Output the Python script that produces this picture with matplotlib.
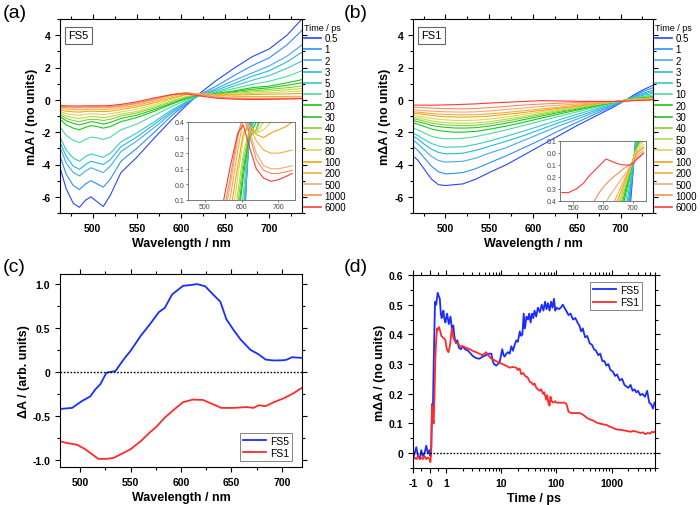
import numpy as np
import matplotlib
matplotlib.use("Agg")
import matplotlib.pyplot as plt
from matplotlib.ticker import MultipleLocator, FixedLocator, FuncFormatter

plt.rcParams['font.family'] = ['Liberation Sans', 'DejaVu Sans']
plt.rcParams['axes.unicode_minus'] = False

# ---- data ----
delays = ['0.5', '1', '2', '3', '5', '10', '20', '30', '40', '50', '80', '100', '200', '500', '1000', '6000']
delay_colors = ['#2a45ff', '#2a90ff', '#45a8f5', '#20bcd8', '#3cc8c4', '#4ed8a4', '#14cc14', '#2cc02c',
                '#86d42c', '#b0dc58', '#e2d456', '#f2a612', '#f2ae3c', '#f6a874', '#f68e58', '#ff3838']

# FS5 transient spectra (mOD)
wl_fs5 = [462, 470, 478, 485, 492, 498, 505, 512, 520, 532, 550, 570, 590, 605, 620, 640, 660, 680, 700, 720, 737]
fs5_spectra = [
    [-4.0, -5.5, -6.4, -6.65, -6.2, -6.0, -6.3, -6.6, -5.9, -4.5, -3.55, -2.35, -1.2, -0.4, 0.35, 1.2, 1.95, 2.65, 3.15, 4.0, 5.0],
    [-3.3, -4.6, -5.3, -5.55, -5.2, -5.0, -5.2, -5.4, -4.9, -3.8, -3.0, -2.0, -0.95, -0.3, 0.3, 0.85, 1.5, 2.1, 2.6, 3.4, 4.3],
    [-2.8, -3.9, -4.5, -4.7, -4.4, -4.2, -4.35, -4.5, -4.1, -3.2, -2.55, -1.7, -0.8, -0.25, 0.25, 0.7, 1.2, 1.65, 2.1, 2.7, 3.4],
    [-2.5, -3.5, -4.1, -4.3, -4.0, -3.8, -3.9, -4.0, -3.7, -2.9, -2.3, -1.5, -0.7, -0.2, 0.25, 0.6, 1.0, 1.45, 1.8, 2.35, 2.95],
    [-2.2, -3.1, -3.6, -3.8, -3.5, -3.35, -3.45, -3.55, -3.3, -2.6, -2.05, -1.35, -0.6, -0.15, 0.25, 0.5, 0.85, 1.2, 1.5, 1.95, 2.4],
    [-1.6, -2.2, -2.5, -2.65, -2.45, -2.3, -2.35, -2.45, -2.3, -1.85, -1.5, -0.95, -0.4, -0.05, 0.3, 0.45, 0.7, 0.95, 1.15, 1.45, 1.8],
    [-1.15, -1.55, -1.75, -1.85, -1.7, -1.6, -1.65, -1.75, -1.65, -1.35, -1.1, -0.7, -0.25, 0.05, 0.3, 0.4, 0.55, 0.75, 0.85, 1.05, 1.25],
    [-1.0, -1.3, -1.45, -1.55, -1.45, -1.35, -1.4, -1.5, -1.4, -1.15, -0.95, -0.6, -0.2, 0.1, 0.3, 0.35, 0.5, 0.65, 0.75, 0.9, 1.05],
    [-0.9, -1.15, -1.28, -1.35, -1.25, -1.2, -1.22, -1.28, -1.2, -1.0, -0.82, -0.5, -0.12, 0.15, 0.32, 0.35, 0.45, 0.55, 0.65, 0.75, 0.85],
    [-0.8, -1.0, -1.1, -1.15, -1.08, -1.03, -1.05, -1.1, -1.03, -0.88, -0.72, -0.42, -0.05, 0.2, 0.34, 0.33, 0.4, 0.48, 0.55, 0.62, 0.7],
    [-0.7, -0.85, -0.92, -0.95, -0.9, -0.86, -0.88, -0.92, -0.86, -0.75, -0.58, -0.3, 0.05, 0.3, 0.38, 0.33, 0.35, 0.4, 0.45, 0.5, 0.55],
    [-0.6, -0.7, -0.74, -0.76, -0.72, -0.7, -0.71, -0.73, -0.7, -0.6, -0.44, -0.18, 0.12, 0.33, 0.38, 0.32, 0.3, 0.33, 0.35, 0.37, 0.4],
    [-0.5, -0.57, -0.6, -0.62, -0.6, -0.58, -0.58, -0.6, -0.57, -0.48, -0.33, -0.08, 0.22, 0.42, 0.38, 0.28, 0.22, 0.2, 0.2, 0.21, 0.22],
    [-0.45, -0.48, -0.5, -0.5, -0.49, -0.48, -0.48, -0.49, -0.47, -0.4, -0.25, 0.0, 0.3, 0.45, 0.36, 0.2, 0.12, 0.1, 0.1, 0.11, 0.12],
    [-0.4, -0.43, -0.45, -0.45, -0.44, -0.43, -0.43, -0.44, -0.42, -0.35, -0.2, 0.05, 0.32, 0.44, 0.33, 0.16, 0.09, 0.07, 0.07, 0.08, 0.09],
    [-0.35, -0.37, -0.38, -0.38, -0.37, -0.37, -0.37, -0.37, -0.35, -0.28, -0.12, 0.12, 0.33, 0.38, 0.25, 0.1, 0.04, 0.02, 0.03, 0.05, 0.07],
]

# FS1 transient spectra (mOD)
wl_fs1 = [461, 468, 476, 484, 492, 500, 510, 520, 535, 550, 570, 590, 610, 630, 650, 670, 690, 705, 715, 725, 737]
fs1_spectra = [
    [-3.4, -3.7, -4.3, -4.9, -5.25, -5.3, -5.25, -5.2, -4.9, -4.5, -4.0, -3.4, -2.8, -2.2, -1.6, -1.05, -0.5, -0.05, 0.3, 0.6, 0.9],
    [-2.8, -3.1, -3.6, -4.1, -4.45, -4.58, -4.55, -4.5, -4.25, -3.9, -3.45, -2.95, -2.45, -1.9, -1.4, -0.9, -0.42, -0.05, 0.25, 0.5, 0.75],
    [-2.4, -2.7, -3.1, -3.5, -3.75, -3.85, -3.83, -3.8, -3.6, -3.3, -2.95, -2.5, -2.05, -1.6, -1.2, -0.78, -0.36, -0.04, 0.2, 0.4, 0.6],
    [-2.2, -2.4, -2.75, -3.05, -3.25, -3.34, -3.33, -3.3, -3.12, -2.88, -2.55, -2.2, -1.8, -1.4, -1.05, -0.68, -0.32, -0.04, 0.17, 0.33, 0.5],
    [-2.0, -2.2, -2.45, -2.7, -2.85, -2.93, -2.92, -2.9, -2.75, -2.55, -2.25, -1.92, -1.58, -1.23, -0.9, -0.58, -0.27, -0.03, 0.14, 0.27, 0.4],
    [-1.7, -1.85, -2.05, -2.25, -2.36, -2.41, -2.4, -2.38, -2.27, -2.1, -1.85, -1.58, -1.3, -1.02, -0.75, -0.48, -0.22, -0.02, 0.1, 0.2, 0.3],
    [-1.4, -1.5, -1.65, -1.8, -1.9, -1.95, -2.0, -2.0, -1.95, -1.82, -1.62, -1.38, -1.12, -0.88, -0.64, -0.41, -0.19, -0.02, 0.07, 0.14, 0.2],
    [-1.25, -1.35, -1.45, -1.58, -1.66, -1.7, -1.74, -1.75, -1.72, -1.62, -1.44, -1.22, -1.0, -0.78, -0.57, -0.37, -0.17, -0.02, 0.06, 0.11, 0.16],
    [-1.15, -1.22, -1.32, -1.43, -1.5, -1.55, -1.58, -1.6, -1.57, -1.48, -1.31, -1.11, -0.91, -0.71, -0.52, -0.33, -0.16, -0.02, 0.05, 0.09, 0.13],
    [-1.05, -1.12, -1.2, -1.3, -1.37, -1.41, -1.44, -1.45, -1.43, -1.35, -1.2, -1.02, -0.83, -0.65, -0.47, -0.3, -0.15, -0.02, 0.04, 0.07, 0.1],
    [-0.95, -1.0, -1.07, -1.15, -1.2, -1.24, -1.27, -1.28, -1.26, -1.19, -1.06, -0.9, -0.74, -0.58, -0.43, -0.28, -0.14, -0.03, 0.03, 0.05, 0.07],
    [-0.8, -0.85, -0.9, -0.96, -1.01, -1.04, -1.06, -1.07, -1.05, -1.0, -0.9, -0.78, -0.65, -0.52, -0.39, -0.26, -0.13, -0.04, 0.01, 0.03, 0.05],
    [-0.72, -0.76, -0.8, -0.85, -0.88, -0.9, -0.92, -0.93, -0.92, -0.87, -0.78, -0.67, -0.56, -0.45, -0.34, -0.23, -0.13, -0.05, 0.0, 0.02, 0.04],
    [-0.6, -0.63, -0.66, -0.7, -0.72, -0.74, -0.75, -0.76, -0.74, -0.69, -0.6, -0.5, -0.41, -0.33, -0.26, -0.19, -0.12, -0.06, -0.02, 0.0, 0.02],
    [-0.45, -0.47, -0.49, -0.51, -0.53, -0.54, -0.55, -0.56, -0.53, -0.48, -0.4, -0.32, -0.26, -0.21, -0.17, -0.13, -0.1, -0.07, -0.04, -0.02, 0.0],
    [-0.33, -0.33, -0.33, -0.33, -0.32, -0.31, -0.3, -0.28, -0.25, -0.2, -0.15, -0.1, -0.05, -0.07, -0.09, -0.1, -0.1, -0.08, -0.05, -0.03, 0.0],
]

# (c) normalised spectra
wl_c_fs5 = [480, 482, 492, 502, 510, 515, 520, 526, 535, 543, 550, 560, 569, 578, 584, 591, 602, 610, 616, 624, 632, 639, 645, 652, 659, 669, 677, 684, 692, 702, 705, 710, 720]
dA_c_fs5 = [-0.42, -0.42, -0.41, -0.33, -0.28, -0.2, -0.14, -0.01, 0.01, 0.14, 0.24, 0.41, 0.54, 0.68, 0.73, 0.88, 0.98, 0.99, 1.0, 0.975, 0.88, 0.8, 0.6, 0.48, 0.37, 0.25, 0.2, 0.14, 0.13, 0.133, 0.14, 0.167, 0.16]
wl_c_fs1 = [480, 487, 497, 505, 512, 518, 526, 533, 540, 550, 560, 569, 576, 584, 593, 602, 612, 622, 632, 640, 652, 665, 672, 677, 684, 692, 702, 712, 720]
dA_c_fs1 = [-0.79, -0.81, -0.83, -0.88, -0.94, -0.99, -0.99, -0.98, -0.94, -0.88, -0.79, -0.69, -0.62, -0.52, -0.43, -0.345, -0.315, -0.32, -0.37, -0.41, -0.41, -0.40, -0.41, -0.38, -0.39, -0.345, -0.30, -0.24, -0.18]

# (d) kinetics
t_fs5 = [-1.0, -0.9, -0.8, -0.7, -0.6, -0.5, -0.4, -0.3, -0.2, -0.1, 0.0, 0.05, 0.1, 0.15, 0.2, 0.25, 0.33, 0.4, 0.49, 0.55,
         0.62, 0.68, 0.73, 0.8, 0.84, 0.9, 0.96, 1.04, 1.12, 1.2, 1.29, 1.35, 1.42, 1.52, 1.6, 1.7, 1.85, 2.0, 2.2, 2.5,
         2.8, 3.05, 3.5, 4.0, 4.6, 5.3, 6.0, 6.6, 7.0, 7.4, 8.1, 8.7, 9.3, 10.4, 11.0, 11.5, 12.3, 13.2, 14.2, 15.2,
         16.3, 17.5, 18.7, 20, 21.6, 23, 24.1, 25.5, 26.5, 27.3, 28.5, 30.5, 32, 34, 36, 38, 40, 43, 46, 50,
         54, 58, 62, 66, 70, 75, 80, 85, 90, 95, 100, 110, 120, 130, 140, 150, 165, 180, 200, 220,
         240, 260, 280, 300, 330, 360, 400, 440, 480, 520, 570, 620, 680, 740, 800, 870, 950, 1050, 1150, 1250,
         1400, 1550, 1700, 1850, 2000, 2200, 2400, 2600, 2800, 3000, 3300, 3600, 4000, 4400, 4800, 5200, 5600, 6000]
dA_fs5 = [-0.02, 0.0, 0.02, -0.01, -0.02, 0.01, -0.01, 0.0, 0.025, 0.0, 0.01, -0.01, 0.02, 0.165, 0.14, 0.3, 0.51, 0.5, 0.54, 0.53,
          0.52, 0.47, 0.455, 0.475, 0.48, 0.45, 0.44, 0.47, 0.435, 0.46, 0.41, 0.43, 0.39, 0.37, 0.38, 0.355, 0.35, 0.36, 0.35, 0.345,
          0.335, 0.327, 0.32, 0.318, 0.325, 0.33, 0.335, 0.335, 0.31, 0.3, 0.295, 0.3, 0.305, 0.35, 0.33, 0.325, 0.335, 0.34, 0.335, 0.36,
          0.345, 0.365, 0.38, 0.375, 0.41, 0.395, 0.4, 0.47, 0.42, 0.43, 0.46, 0.45, 0.47, 0.44, 0.47, 0.455, 0.48, 0.46, 0.49, 0.475,
          0.5, 0.48, 0.51, 0.485, 0.505, 0.48, 0.51, 0.49, 0.52, 0.48, 0.49, 0.485, 0.49, 0.5, 0.49, 0.48, 0.465, 0.47, 0.45, 0.455,
          0.44, 0.43, 0.41, 0.42, 0.39, 0.395, 0.37, 0.365, 0.35, 0.345, 0.33, 0.335, 0.31, 0.31, 0.295, 0.3, 0.28, 0.275, 0.26, 0.265,
          0.245, 0.25, 0.23, 0.225, 0.22, 0.23, 0.21, 0.215, 0.205, 0.21, 0.195, 0.2, 0.19, 0.21, 0.17, 0.165, 0.15, 0.17]
t_fs1 = [-1.0, -0.9, -0.8, -0.7, -0.6, -0.5, -0.4, -0.3, -0.2, -0.1, 0.0, 0.05, 0.1, 0.15, 0.2, 0.25, 0.3, 0.35, 0.4, 0.45,
         0.5, 0.57, 0.65, 0.71, 0.8, 0.9, 0.96, 1.03, 1.1, 1.17, 1.27, 1.35, 1.42, 1.52, 1.63, 1.8, 2.0, 2.3, 2.7, 3.0,
         3.5, 4.0, 4.5, 5.0, 5.3, 5.8, 6.4, 7.1, 8.0, 9.3, 10.5, 12, 14.2, 16, 18.7, 20, 21.5, 23, 25, 27,
         30, 33, 35, 38, 40, 43, 46, 50, 53, 57, 60, 63, 65.8, 68, 72, 75, 78, 82, 88, 95,
         100, 120, 140, 152, 165, 174, 190, 220, 265, 300, 350, 400, 460, 532, 600, 700, 810, 900, 1000, 1230,
         1500, 1870, 2200, 2500, 2840, 3300, 3700, 4060, 4500, 5000, 5400, 5740, 6000]
dA_fs1 = [-0.02, -0.015, -0.02, -0.01, -0.02, -0.015, -0.02, -0.01, -0.02, -0.015, -0.02, -0.03, 0.0, 0.16, 0.12, 0.1, 0.2, 0.32, 0.38, 0.42,
          0.415, 0.425, 0.41, 0.395, 0.39, 0.385, 0.38, 0.35, 0.34, 0.36, 0.42, 0.39, 0.38, 0.37, 0.37, 0.36, 0.36, 0.355, 0.35, 0.345,
          0.34, 0.335, 0.33, 0.335, 0.34, 0.33, 0.32, 0.316, 0.31, 0.305, 0.3, 0.295, 0.288, 0.29, 0.288, 0.28, 0.285, 0.266, 0.27, 0.26,
          0.255, 0.24, 0.238, 0.23, 0.235, 0.22, 0.215, 0.21, 0.215, 0.2, 0.205, 0.19, 0.18, 0.195, 0.165, 0.16, 0.19, 0.175, 0.17, 0.175,
          0.17, 0.17, 0.17, 0.165, 0.14, 0.137, 0.135, 0.135, 0.135, 0.13, 0.12, 0.114, 0.11, 0.103, 0.1, 0.097, 0.095, 0.09, 0.087, 0.08,
          0.078, 0.075, 0.072, 0.075, 0.072, 0.068, 0.07, 0.064, 0.068, 0.066, 0.072, 0.07, 0.072]

W, H = 700, 506
fig = plt.figure(figsize=(7.0, 5.06), dpi=100)


def px_axes(x0, y0, x1, y1):
    return fig.add_axes([x0 / W, 1 - y1 / H, (x1 - x0) / W, (y1 - y0) / H])


def style(ax, lab=7.5):
    ax.tick_params(which='both', direction='out', top=True, right=True, labelsize=lab, width=0.8)
    ax.tick_params(which='major', length=3.5)
    ax.tick_params(which='minor', length=2)
    for lbl in ax.get_xticklabels() + ax.get_yticklabels():
        lbl.set_fontweight('bold')
    for s in ax.spines.values():
        s.set_linewidth(0.8)


def zero_fmt(v, pos):
    return '0' if abs(v) < 1e-9 else f'{v:.1f}'


def spectra_panel(ax, wl, spectra, tag, inset_box, inset_ylim):
    for row, c in zip(spectra, delay_colors):
        ax.plot(wl, row, color=c, lw=0.8)
    ax.set_xlim(463, 737)
    ax.set_ylim(-7, 5)
    ax.xaxis.set_major_locator(MultipleLocator(50))
    ax.xaxis.set_minor_locator(MultipleLocator(25))
    ax.yaxis.set_major_locator(MultipleLocator(2))
    ax.yaxis.set_minor_locator(MultipleLocator(1))
    style(ax)
    ax.set_xlabel('Wavelength / nm', fontsize=9, fontweight='bold', labelpad=3)
    ax.set_ylabel('m\u0394A / (no units)', fontsize=9, fontweight='bold', labelpad=2)
    ax.text(0.035, 0.915, tag, transform=ax.transAxes, fontsize=8, va='center',
            bbox=dict(boxstyle='square,pad=0.3', fc='white', ec='#666666', lw=0.8))
    handles = [plt.Line2D([], [], color=c, lw=1.2) for c in delay_colors]
    ax.legend(handles, delays, loc='upper left', bbox_to_anchor=(1.0, 0.99), frameon=False,
              fontsize=7, title='Time / ps', title_fontsize=6.5, handlelength=1.8,
              handletextpad=0.3, labelspacing=0.13, borderaxespad=0.1, borderpad=0.1,
              alignment='left')
    ins = px_axes(*inset_box)
    for row, c in zip(spectra, delay_colors):
        ins.plot(wl, row, color=c, lw=0.8)
    ins.set_xlim(455, 745)
    ins.set_ylim(*inset_ylim)
    ins.xaxis.set_major_locator(FixedLocator([500, 600, 700]))
    ins.yaxis.set_major_locator(MultipleLocator(0.1))
    ins.yaxis.set_major_formatter(FuncFormatter(lambda v, p: f'{abs(v):.1f}'))
    ins.tick_params(labelsize=5, length=1.5, width=0.5, pad=1, colors='#444444')
    for s in ins.spines.values():
        s.set_linewidth(0.6)
        s.set_color('#666666')


# (a)
ax_a = px_axes(60, 20, 302, 214)
spectra_panel(ax_a, wl_fs5, fs5_spectra, 'FS5', (188, 123, 295, 201), (-0.1, 0.4))
# (b)
ax_b = px_axes(413, 20, 653, 214)
spectra_panel(ax_b, wl_fs1, fs1_spectra, 'FS1', (560, 142, 646, 202), (-0.4, 0.1))

# (c)
ax_c = px_axes(60, 275, 302, 468)
ax_c.plot(wl_c_fs5, dA_c_fs5, color='#1a2cff', lw=1.3, label='FS5')
ax_c.plot(wl_c_fs1, dA_c_fs1, color='#ff2a2a', lw=1.3, label='FS1')
ax_c.axhline(0, color='black', lw=1.0, ls=(0, (1.2, 1.2)))
ax_c.set_xlim(480, 720)
ax_c.set_ylim(-1.083, 1.115)
ax_c.xaxis.set_major_locator(MultipleLocator(50))
ax_c.xaxis.set_minor_locator(MultipleLocator(25))
ax_c.yaxis.set_major_locator(MultipleLocator(0.5))
ax_c.yaxis.set_minor_locator(MultipleLocator(0.25))
ax_c.yaxis.set_major_formatter(FuncFormatter(zero_fmt))
style(ax_c)
ax_c.set_xlabel('Wavelength / nm', fontsize=9, fontweight='bold', labelpad=3)
ax_c.set_ylabel('\u0394A / (arb. units)', fontsize=9, fontweight='bold', labelpad=2)
ax_c.legend(loc='lower right', bbox_to_anchor=(1 - 10 / 242, 6 / 193), borderaxespad=0, fontsize=7.5,
            frameon=True, fancybox=False, edgecolor='#666666', handlelength=2.2, handletextpad=0.4,
            borderpad=0.3, labelspacing=0.2).get_frame().set_linewidth(0.7)

# (d)
ax_d = px_axes(413, 276, 655, 469)
ax_d.plot(t_fs5, dA_fs5, color='#1a2cff', lw=1.3, label='FS5')
ax_d.plot(t_fs1, dA_fs1, color='#ff2a2a', lw=1.3, label='FS1')
ax_d.axhline(0, color='black', lw=1.0, ls=(0, (1.2, 1.2)))
ax_d.set_xscale('symlog', linthresh=1, linscale=0.27)
ax_d.set_xlim(-1, 6100)
ax_d.set_ylim(-0.05, 0.6)
ax_d.xaxis.set_major_locator(FixedLocator([-1, 0, 1, 10, 100, 1000]))
ax_d.xaxis.set_major_formatter(FuncFormatter(lambda v, p: f'{v:g}'))
minor_t = [-0.5, 0.5] + [m * 10 ** k for k in range(0, 4) for m in range(2, 10) if m * 10 ** k < 6100]
ax_d.xaxis.set_minor_locator(FixedLocator(minor_t))
ax_d.yaxis.set_major_locator(MultipleLocator(0.1))
ax_d.yaxis.set_minor_locator(MultipleLocator(0.05))
ax_d.yaxis.set_major_formatter(FuncFormatter(zero_fmt))
style(ax_d)
ax_d.set_xlabel('Time / ps', fontsize=9, fontweight='bold', labelpad=3)
ax_d.set_ylabel('m\u0394A / (no units)', fontsize=9, fontweight='bold', labelpad=2)
ax_d.legend(loc='upper right', bbox_to_anchor=(1 - 13 / 242, 1 - 7 / 193), borderaxespad=0, fontsize=7.5,
            frameon=True, fancybox=False, edgecolor='#666666', handlelength=2.2, handletextpad=0.4,
            borderpad=0.3, labelspacing=0.2).get_frame().set_linewidth(0.7)

# panel labels
for lbl, x, y in [('(a)', 3, 14), ('(b)', 344, 14), ('(c)', 3, 268), ('(d)', 344, 268)]:
    fig.text(x / W, 1 - y / H, lbl, fontsize=14, va='center', ha='left')

fig.savefig('out.png', dpi=100)
